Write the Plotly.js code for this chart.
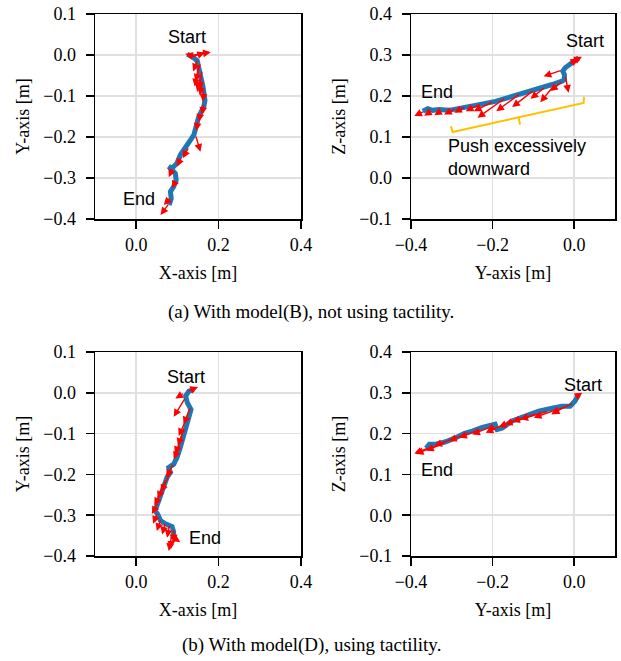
<!DOCTYPE html>
<html>
<head>
<meta charset="utf-8">
<script src="https://cdn.plot.ly/plotly-3.0.1.min.js"></script>
<style>html,body{margin:0;padding:0;background:#fff;}#chart{width:621px;height:661px;}</style>
</head>
<body>
<div id="chart"></div>
<script>
// ---------- Panel (a) left: X-Y trajectory ----------
const aXYx = [0.124, 0.136, 0.148, 0.154, 0.158, 0.162, 0.167, 0.164, 0.152, 0.144, 0.140, 0.132, 0.120, 0.107, 0.099, 0.087, 0.079, 0.095, 0.097, 0.091, 0.083, 0.085, 0.080];
const aXYy = [0.002, -0.004, -0.014, -0.037, -0.053, -0.077, -0.110, -0.126, -0.150, -0.175, -0.195, -0.207, -0.224, -0.244, -0.264, -0.276, -0.272, -0.289, -0.305, -0.321, -0.333, -0.350, -0.366];
// arrows: tail (x0,y0) -> tip (x1,y1)
const aXYax0 = [0.126, 0.132, 0.136, 0.150, 0.156, 0.152, 0.160, 0.158, 0.162, 0.164, 0.164, 0.156, 0.150, 0.144, 0.128, 0.110, 0.089, 0.097, 0.085, 0.080];
const aXYay0 = [-0.002, -0.006, -0.002, -0.010, -0.019, -0.024, -0.037, -0.050, -0.061, -0.085, -0.118, -0.142, -0.160, -0.195, -0.224, -0.248, -0.276, -0.305, -0.346, -0.362];
const aXYax1 = [0.181, 0.167, 0.119, 0.138, 0.144, 0.142, 0.152, 0.148, 0.154, 0.162, 0.160, 0.152, 0.146, 0.156, 0.113, 0.099, 0.079, 0.087, 0.067, 0.059];
const aXYay1 = [0.007, 0.006, 0.003, -0.040, -0.065, -0.077, -0.085, -0.090, -0.098, -0.114, -0.146, -0.163, -0.185, -0.236, -0.252, -0.272, -0.298, -0.325, -0.366, -0.390];

// ---------- Panel (a) right: Y-Z trajectory ----------
const aYZx = [0.011, -0.006, -0.022, -0.028, -0.024, -0.024, -0.030, -0.054, -0.087, -0.120, -0.152, -0.193, -0.233, -0.274, -0.307, -0.331, -0.347, -0.359, -0.371];
const aYZy = [0.293, 0.281, 0.269, 0.261, 0.252, 0.240, 0.236, 0.228, 0.218, 0.209, 0.200, 0.187, 0.179, 0.171, 0.165, 0.167, 0.165, 0.169, 0.163];
const aYZax0 = [-0.002, -0.014, -0.030, -0.022, -0.028, -0.046, -0.071, -0.099, -0.132, -0.168, -0.197, -0.229, -0.266, -0.290, -0.323, -0.347, -0.367];
const aYZay0 = [0.285, 0.277, 0.263, 0.250, 0.236, 0.230, 0.222, 0.214, 0.206, 0.196, 0.187, 0.181, 0.174, 0.169, 0.165, 0.165, 0.163];
const aYZax1 = [0.019, 0.010, -0.075, -0.014, -0.059, -0.083, -0.107, -0.152, -0.191, -0.237, -0.246, -0.266, -0.294, -0.319, -0.343, -0.368, -0.392];
const aYZay1 = [0.296, 0.291, 0.248, 0.208, 0.212, 0.185, 0.193, 0.173, 0.163, 0.147, 0.163, 0.163, 0.159, 0.155, 0.153, 0.152, 0.151];
// bracket marking "push excessively downward"
const bracketX = [-0.302, -0.298, -0.136, -0.133, -0.136, 0.023, 0.024];
const bracketY = [0.126, 0.112, 0.148, 0.130, 0.148, 0.183, 0.198];

// ---------- Panel (b) left: X-Y trajectory ----------
const bXYx = [0.140, 0.128, 0.120, 0.124, 0.133, 0.128, 0.120, 0.114, 0.107, 0.099, 0.091, 0.079, 0.083, 0.075, 0.067, 0.059, 0.050, 0.046, 0.052, 0.059, 0.071, 0.087, 0.091, 0.089];
const bXYy = [0.008, 0.004, -0.008, -0.024, -0.041, -0.061, -0.085, -0.110, -0.134, -0.159, -0.175, -0.183, -0.195, -0.207, -0.232, -0.256, -0.276, -0.289, -0.297, -0.313, -0.321, -0.328, -0.341, -0.358];
const bXYax0 = [0.124, 0.117, 0.120, 0.132, 0.125, 0.117, 0.112, 0.107, 0.091, 0.083, 0.073, 0.065, 0.054, 0.052, 0.060, 0.071, 0.081, 0.091, 0.087, 0.089, 0.085];
const bXYay0 = [0.004, 0.000, -0.011, -0.035, -0.057, -0.085, -0.105, -0.126, -0.173, -0.195, -0.211, -0.236, -0.268, -0.293, -0.309, -0.317, -0.323, -0.333, -0.346, -0.354, -0.360];
const bXYax1 = [0.150, 0.095, 0.091, 0.115, 0.103, 0.101, 0.094, 0.091, 0.073, 0.060, 0.052, 0.044, 0.038, 0.041, 0.050, 0.063, 0.075, 0.091, 0.079, 0.107, 0.085];
const bXYay1 = [0.014, -0.014, -0.059, -0.077, -0.106, -0.130, -0.150, -0.163, -0.207, -0.244, -0.260, -0.276, -0.297, -0.321, -0.339, -0.347, -0.355, -0.366, -0.388, -0.366, -0.382];

// ---------- Panel (b) right: Y-Z trajectory ----------
const bYZx = [0.011, 0.002, -0.010, -0.030, -0.054, -0.087, -0.120, -0.152, -0.176, -0.189, -0.194, -0.205, -0.225, -0.250, -0.270, -0.290, -0.315, -0.339, -0.355, -0.363];
const bYZy = [0.296, 0.280, 0.267, 0.267, 0.262, 0.255, 0.243, 0.231, 0.214, 0.210, 0.223, 0.221, 0.215, 0.206, 0.200, 0.190, 0.180, 0.174, 0.174, 0.164];
const bYZax0 = [0.007, -0.002, -0.022, -0.034, -0.063, -0.091, -0.110, -0.128, -0.168, -0.194, -0.205, -0.229, -0.258, -0.290, -0.315, -0.339, -0.355];
const bYZay0 = [0.292, 0.275, 0.267, 0.262, 0.255, 0.249, 0.244, 0.239, 0.224, 0.219, 0.216, 0.211, 0.202, 0.190, 0.178, 0.170, 0.166];
const bYZax1 = [0.020, -0.055, -0.056, -0.099, -0.132, -0.152, -0.170, -0.185, -0.217, -0.213, -0.250, -0.282, -0.307, -0.343, -0.363, -0.388, -0.392];
const bYZay1 = [0.300, 0.249, 0.247, 0.239, 0.235, 0.229, 0.222, 0.216, 0.202, 0.206, 0.198, 0.190, 0.182, 0.170, 0.158, 0.150, 0.151];

// ---------- text ----------
const xyXTitle = 'X-axis [m]', xyYTitle = 'Y-axis [m]';
const yzXTitle = 'Y-axis [m]', yzYTitle = 'Z-axis [m]';
const captionA = '(a) With model(B), not using tactility.';
const captionB = '(b) With model(D), using tactility.';
const pushText = 'Push excessively<br>downward';
// label positions (data units): [x, y]
const labelPos = {
  aXYstart: [0.124, 0.043], aXYend: [0.007, -0.351],
  aYZstart: [0.027, 0.333], aYZend: [-0.337, 0.209],
  bXYstart: [0.120, 0.039], bXYend: [0.168, -0.356],
  bYZstart: [0.022, 0.318], bYZend: [-0.337, 0.110],
  push: [-0.315, 0.051]
};

const W = 621, H = 661;
const serif = 'Liberation Serif, Times New Roman, serif';
const sans = 'Liberation Sans, Arial, sans-serif';
const BLUE = '#1f77b4';

function xd(l, r) { return [l / W, r / W]; }
function yd(t, b) { return [1 - b / H, 1 - t / H]; }

function axis(range, dtick, domain, title, anchor, isY) {
  return {
    domain: domain, range: range, dtick: dtick, tick0: 0, tickformat: '.1f',
    anchor: anchor, showline: true, mirror: true, linecolor: '#000', linewidth: 1.5,
    ticks: 'outside', ticklen: 8, tickwidth: 1.5, tickcolor: '#000',
    ticklabelstandoff: isY ? 6 : 1,
    showgrid: true, gridcolor: '#e0e0e0', gridwidth: 1.5, zeroline: false,
    tickfont: {family: serif, size: 18, color: '#000'},
    title: {text: title, font: {family: serif, size: 18, color: '#000'}, standoff: isY ? 9 : 12},
    fixedrange: true
  };
}

const layout = {
  width: W, height: H, margin: {l: 0, r: 0, t: 0, b: 0},
  paper_bgcolor: '#fff', plot_bgcolor: '#fff', showlegend: false,
  xaxis: axis([-0.1, 0.4], 0.2, xd(95, 301), xyXTitle, 'y', false),
  yaxis: axis([-0.4, 0.1], 0.1, yd(14, 219), xyYTitle, 'x', true),
  xaxis2: axis([-0.4, 0.1], 0.2, xd(411, 615), yzXTitle, 'y2', false),
  yaxis2: axis([-0.1, 0.4], 0.1, yd(14, 219), yzYTitle, 'x2', true),
  xaxis3: axis([-0.1, 0.4], 0.2, xd(95, 301), xyXTitle, 'y3', false),
  yaxis3: axis([-0.4, 0.1], 0.1, yd(352, 556), xyYTitle, 'x3', true),
  xaxis4: axis([-0.4, 0.1], 0.2, xd(411, 615), yzXTitle, 'y4', false),
  yaxis4: axis([-0.1, 0.4], 0.1, yd(352, 556), yzYTitle, 'x4', true),
  annotations: []
};

function line(x, y, xa, ya) {
  return {x: x, y: y, xaxis: xa, yaxis: ya, mode: 'lines', type: 'scatter',
          line: {color: BLUE, width: 5}, hoverinfo: 'skip'};
}
const data = [
  line(aXYx, aXYy, 'x', 'y'),
  line(aYZx, aYZy, 'x2', 'y2'),
  {x: bracketX, y: bracketY, xaxis: 'x2', yaxis: 'y2', mode: 'lines', type: 'scatter',
   line: {color: '#FFC000', width: 2}, hoverinfo: 'skip'},
  line(bXYx, bXYy, 'x3', 'y3'),
  line(bYZx, bYZy, 'x4', 'y4')
];

function arrows(x0, y0, x1, y1, xa, ya) {
  for (let i = 0; i < x0.length; i++) {
    layout.annotations.push({
      x: x1[i], y: y1[i], ax: x0[i], ay: y0[i], xref: xa, yref: ya, axref: xa, ayref: ya,
      text: '', showarrow: true, arrowhead: 2, arrowsize: 1.1, arrowwidth: 1.4,
      arrowcolor: '#ff0000', standoff: 0, startstandoff: 0
    });
  }
}
arrows(aXYax0, aXYay0, aXYax1, aXYay1, 'x', 'y');
arrows(aYZax0, aYZay0, aYZax1, aYZay1, 'x2', 'y2');
arrows(bXYax0, bXYay0, bXYax1, bXYay1, 'x3', 'y3');
arrows(bYZax0, bYZay0, bYZax1, bYZay1, 'x4', 'y4');

function label(text, pos, xa, ya, extra) {
  layout.annotations.push(Object.assign({
    text: text, x: pos[0], y: pos[1], xref: xa, yref: ya, showarrow: false,
    font: {family: sans, size: 18, color: '#000'}, xanchor: 'center', yanchor: 'middle'
  }, extra || {}));
}
label('Start', labelPos.aXYstart, 'x', 'y');
label('End', labelPos.aXYend, 'x', 'y');
label('Start', labelPos.aYZstart, 'x2', 'y2');
label('End', labelPos.aYZend, 'x2', 'y2');
label(pushText, labelPos.push, 'x2', 'y2', {xanchor: 'left', align: 'left'});
label('Start', labelPos.bXYstart, 'x3', 'y3');
label('End', labelPos.bXYend, 'x3', 'y3');
label('Start', labelPos.bYZstart, 'x4', 'y4');
label('End', labelPos.bYZend, 'x4', 'y4');

layout.annotations.push({text: captionA, x: 311 / W, y: 1 - 312 / H, xref: 'paper', yref: 'paper',
  showarrow: false, xanchor: 'center', yanchor: 'middle', font: {family: serif, size: 19, color: '#000'}});
layout.annotations.push({text: captionB, x: 311 / W, y: 1 - 645 / H, xref: 'paper', yref: 'paper',
  showarrow: false, xanchor: 'center', yanchor: 'middle', font: {family: serif, size: 19, color: '#000'}});

Plotly.newPlot('chart', data, layout, {staticPlot: true, displayModeBar: false});
</script>
</body>
</html>
